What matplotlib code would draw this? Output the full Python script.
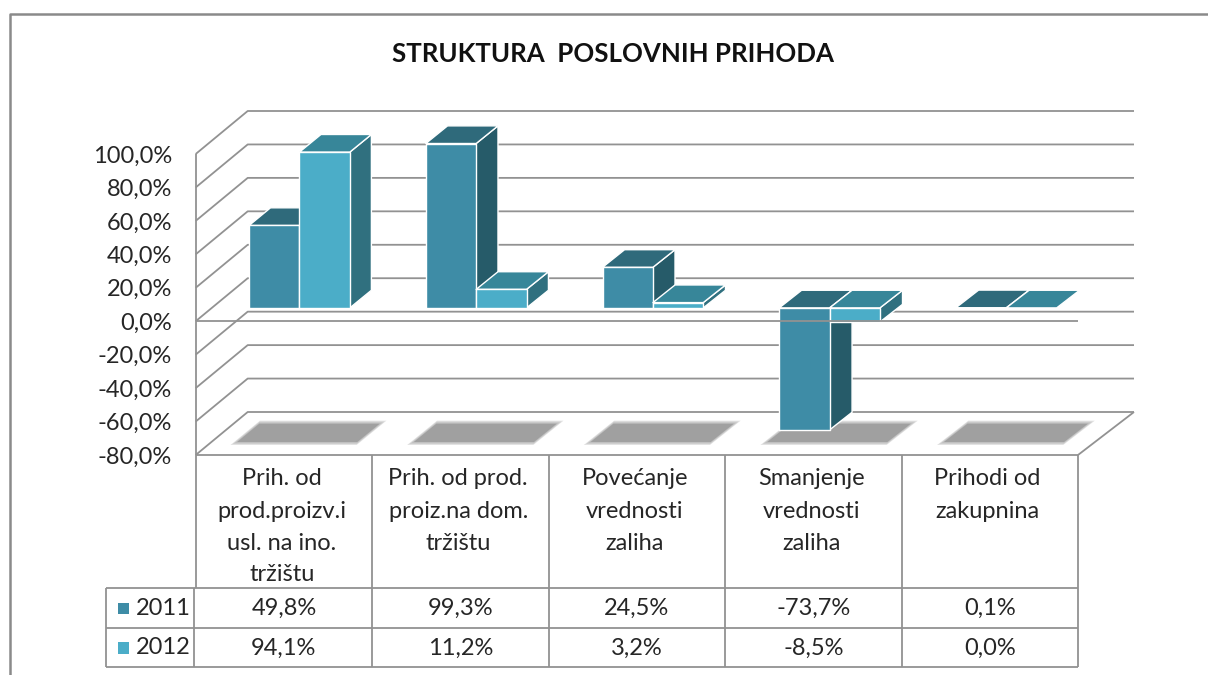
import matplotlib
matplotlib.use("Agg")
import matplotlib.pyplot as plt
from matplotlib.patches import Polygon
from matplotlib.lines import Line2D

plt.rcParams['font.family'] = ['Lato', 'DejaVu Sans']

categories = ["Prih. od\nprod.proizv.i\nusl. na ino.\ntržištu",
              "Prih. od prod.\nproiz.na dom.\ntržištu",
              "Povećanje\nvrednosti\nzaliha",
              "Smanjenje\nvrednosti\nzaliha",
              "Prihodi od\nzakupnina"]
series_names = ["2011", "2012"]
values_2011 = [49.8, 99.3, 24.5, -73.7, 0.1]
values_2012 = [94.1, 11.2, 3.2, -8.5, 0.0]
y_ticks = [-80, -60, -40, -20, 0, 20, 40, 60, 80, 100]

W, H = 1208, 675
PX0, PX1 = 195.7, 1078.0
PY_TOP, PY_BOT = 154.0, 455.0
VMIN, VMAX = -80.0, 100.0
DX_L, DX_R, DY = 52.0, 56.0, 43.0
LINE = "#929292"
LW = 1.3
TXT = "#262626"
FRONT = ["#3E8CA6", "#4BADC8"]
TOP = ["#2F6A7B", "#378699"]
SIDE = ["#265B69", "#30707F"]

fig = plt.figure(figsize=(W / 100, H / 100), dpi=100, facecolor="white")
ax = fig.add_axes([PX0 / W, 1 - PY_BOT / H, (PX1 - PX0) / W, (PY_BOT - PY_TOP) / H])
ax.set_xlim(0, 5)
ax.set_ylim(VMIN, VMAX)
ax.patch.set_alpha(0)
for s in ax.spines.values():
    s.set_visible(False)
ax.set_xticks([])
ax.set_yticks(y_ticks)
ax.set_yticklabels([f"{t:.1f}%".replace(".", ",") for t in y_ticks], fontsize=17, color=TXT)
ax.tick_params(axis="y", length=0, pad=17)

XU = (PX1 - PX0) / 5
YU = (PY_BOT - PY_TOP) / (VMAX - VMIN)


def P(x, v, d):
    """Oblique projection: category position x, value v, depth d (0 front, 1 back)."""
    scale = 1 + (DX_R - DX_L) * d / (PX1 - PX0)
    return (x * scale + DX_L * d / XU, v + DY * d / YU)


def xp(px):
    return (px - PX0) / XU


def yp(py):
    return VMAX - (py - PY_TOP) / YU


def line(pts, z=1, **kw):
    xs, ys = zip(*pts)
    ax.add_line(Line2D(xs, ys, color=kw.get("color", LINE), lw=kw.get("lw", LW), zorder=z,
                       clip_on=False, solid_capstyle="butt"))


# walls
for t in y_ticks:
    line([P(0, t, 0), P(0, t, 1), P(5, t, 1)])
line([P(0, VMAX, 0), P(0, VMIN, 0)], z=6)
line([P(5, VMIN, 0), P(5, VMIN, 1)])

# floor shadows
SHADOW_INSETS = [-1.0, 0.0, 1.0, 2.0]
for i in range(5):
    for k, ins in enumerate(SHADOW_INSETS):
        dix = ins / XU
        dd = ins / DY
        a = P(i + 0.134 + dix, VMIN, 0.256 + dd)
        b = P(i + 0.837 - dix, VMIN, 0.256 + dd)
        c = P(i + 0.837 - dix, VMIN, 0.775 - dd)
        e = P(i + 0.134 + dix, VMIN, 0.775 - dd)
        last = k == len(SHADOW_INSETS) - 1
        ax.add_patch(Polygon([a, b, c, e], closed=True, fc="#A0A0A0", ec="none",
                             alpha=1.0 if last else 0.3, zorder=2, clip_on=False))

# bars
D0, D1 = 0.31, 0.72
BAR_W = 0.285
BAR_SCALE = 0.99
X_SHIFT = -0.004
for i in range(5):
    for j, vals in enumerate([values_2011, values_2012]):
        v = vals[i] * BAR_SCALE
        x0 = i + 0.5 - BAR_W + j * BAR_W + X_SHIFT
        x1 = x0 + BAR_W
        hi = max(v, 0)
        kw = dict(closed=True, ec="white", lw=1.0, zorder=3 + 0.1 * j, clip_on=False, joinstyle="round")
        if abs(v) > 0.5:
            ax.add_patch(Polygon([P(x1, 0, D0), P(x1, v, D0), P(x1, v, D1), P(x1, 0, D1)],
                                 fc=SIDE[j], **kw))
        ax.add_patch(Polygon([P(x0, hi, D0), P(x1, hi, D0), P(x1, hi, D1), P(x0, hi, D1)],
                             fc=TOP[j], **kw))
        if abs(v) > 0.5:
            ax.add_patch(Polygon([P(x0, 0, D0), P(x1, 0, D0), P(x1, v, D0), P(x0, v, D0)],
                                 fc=FRONT[j], **kw))

# front plane lines
line([P(0, 0, 0), P(5, 0, 0)], z=6)
line([P(0, VMIN, 0), P(5, VMIN, 0)], z=6)

# data table
ROW_Y = [588.0, 628.0, 667.0]
TABLE_L = 106.0
for r in ROW_Y:
    line([(xp(TABLE_L), yp(r)), (5, yp(r))], z=6)
line([(xp(TABLE_L), yp(ROW_Y[0])), (xp(TABLE_L), yp(ROW_Y[2]))], z=6)
line([(0, VMIN), (0, yp(ROW_Y[0]))], z=6)
line([(xp(194), yp(ROW_Y[0])), (xp(194), yp(ROW_Y[2]))], z=6)
for i in range(1, 6):
    line([(i, VMIN), (i, yp(ROW_Y[2]))], z=6)

LINE_PX = [478.5, 511.0, 543.0, 574.5]
for i, c in enumerate(categories):
    for n, part in enumerate(c.split("\n")):
        ax.text(i + 0.5 - 0.012, yp(LINE_PX[n]), part, ha="center", va="center", fontsize=17,
                color=TXT, clip_on=False)

CY = [608.5, 648.0]
for j, vals in enumerate([values_2011, values_2012]):
    for i, v in enumerate(vals):
        ax.text(i + 0.5, yp(CY[j]), f"{v:.1f}%".replace(".", ","), ha="center", va="center",
                fontsize=17, color=TXT, clip_on=False)
    ax.add_patch(Polygon([(xp(118), yp(CY[j] - 6)), (xp(129), yp(CY[j] - 6)),
                          (xp(129), yp(CY[j] + 5.5)), (xp(118), yp(CY[j] + 5.5))],
                         closed=True, fc=FRONT[j], ec="none", clip_on=False, zorder=5))
    ax.text(xp(136), yp(CY[j]), series_names[j], ha="left", va="center", fontsize=17,
            color=TXT, clip_on=False)

# title
fig.text(613 / W, 1 - 54 / H, "STRUKTURA  POSLOVNIH PRIHODA", ha="center", va="center",
         fontsize=18.6, fontweight="bold", color="#111111")

# outer frame
fig.add_artist(Line2D([10 / W, 10 / W, 1], [0, 1 - 14 / H, 1 - 14 / H], color="#8A8A8A", lw=1.8,
                      transform=fig.transFigure))

fig.savefig("out.png", dpi=100, facecolor="white")
